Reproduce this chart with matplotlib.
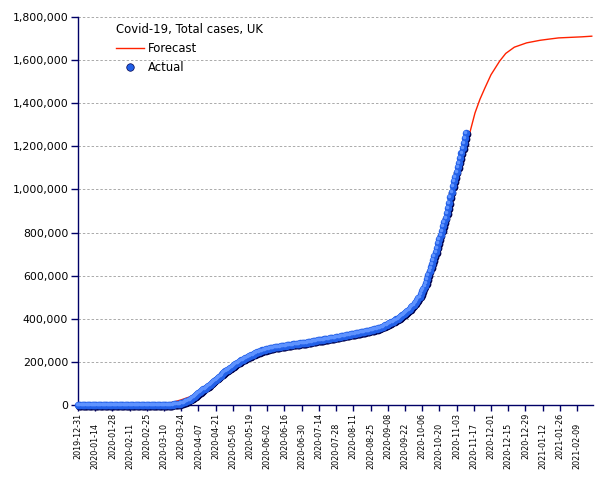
import pandas as pd
import matplotlib
matplotlib.use('Agg')
import matplotlib.pyplot as plt
import matplotlib.dates as mdates
import matplotlib.transforms as mtransforms
from matplotlib.lines import Line2D
from matplotlib.ticker import FuncFormatter

# daily cumulative cases, first value is 2019-12-31
start_date = '2019-12-31'
dec = [0]
jan = [0, 0, 0, 0, 0, 0, 0, 0, 0, 0, 0, 0, 0, 0, 0, 0, 0, 0, 0, 0,
       0, 0, 0, 0, 0, 0, 0, 0, 0, 0, 2]
feb = [2, 2, 2, 2, 2, 3, 3, 3, 8, 8, 9, 9, 9, 9, 9, 9, 9, 9, 9, 9,
       9, 13, 13, 13, 13, 15, 20, 23, 23]
mar = [36, 40, 51, 85, 115, 163, 206, 273, 321, 373, 456, 590, 797, 1061, 1391,
       1543, 1950, 2626, 3269, 3983, 5018, 5683, 6650, 8077, 9529, 11658, 14543,
       17089, 19522, 22141, 25150]
apr = [29474, 33718, 38168, 41903, 47806, 51608, 55242, 59500, 64000, 68500,
       72500, 76500, 80800, 85200, 89600, 94000, 99000, 103800, 108600, 113400,
       118000, 122700, 127400, 132000, 136800, 141600, 146400, 151200, 156000, 160200]
may = [164500, 168700, 172800, 176900, 180900, 184900, 188800, 192700, 196500, 200300,
       204000, 207500, 211000, 214000, 217000, 220000, 222900, 225800, 228600, 231300,
       234000, 236700, 239300, 241900, 244400, 246900, 249300, 251100, 252900, 254600,
       256300]
jun = [257900, 259400, 260900, 262300, 263600, 264900, 266100, 267200, 268300, 269300,
       270300, 271300, 272200, 273100, 274000, 274900, 275800, 276700, 277500, 278300,
       279100, 279900, 280700, 281600, 282500, 283400, 284200, 285000, 285800, 286600]
jul = [287400, 288200, 289000, 289800, 290800, 291900, 293000, 294100, 295200, 296300,
       297400, 298500, 299400, 300300, 301200, 302100, 303000, 303900, 304800, 305800,
       306800, 307800, 308800, 309800, 310800, 311900, 313000, 314100, 315200, 316300,
       317400]
aug = [318500, 319600, 320700, 321800, 322900, 324100, 325300, 326500, 327600, 328700,
       329800, 330900, 332000, 333100, 334200, 335300, 336500, 337700, 338900, 340100,
       341400, 342700, 344000, 345300, 346600, 348000, 349400, 350800, 352300, 353800,
       355500]
sep = [357300, 359300, 361500, 364000, 366700, 369600, 372500, 375400, 378300, 381200,
       384100, 387000, 390000, 393300, 396700, 400200, 403800, 407500, 411500, 415800,
       420400, 425200, 430200, 435400, 440800, 446500, 452500, 458800, 465400, 472300]
octo = [479500, 487000, 494800, 503000, 515000, 527500, 540000, 553000, 566500, 585000,
        602000, 620000, 638000, 656000, 674000, 692000, 711000, 730000, 749500, 769000,
        789000, 809000, 829000, 849000, 869000, 889000, 913000, 938000, 963000, 989000,
        1015000]
nov = [1037000, 1059000, 1081000, 1103000, 1125000, 1147000, 1169000, 1191000,
       1214000, 1237000, 1260000]

actual = dec + jan + feb + mar + apr + may + jun + jul + aug + sep + octo + nov

forecast_dates = ['2020-03-06', '2020-03-12', '2020-03-18', '2020-03-24', '2020-03-31',
                  '2020-04-07', '2020-04-14', '2020-04-21', '2020-04-28', '2020-05-05',
                  '2020-05-12', '2020-05-19', '2020-05-26', '2020-06-02', '2020-06-09',
                  '2020-06-16', '2020-06-23', '2020-06-30', '2020-07-07', '2020-07-14',
                  '2020-07-21', '2020-07-28', '2020-08-04', '2020-08-11', '2020-08-18',
                  '2020-08-25', '2020-09-01', '2020-09-08', '2020-09-15', '2020-09-22',
                  '2020-09-29', '2020-10-06', '2020-10-13', '2020-10-20', '2020-10-27',
                  '2020-11-03', '2020-11-09', '2020-11-14', '2020-11-18', '2020-11-22',
                  '2020-11-26', '2020-12-01', '2020-12-08', '2020-12-13', '2020-12-20',
                  '2020-12-30', '2021-01-10', '2021-01-18', '2021-01-25', '2021-02-13',
                  '2021-02-21']
forecast = [2000, 6000, 14000, 24000, 38000,
            60000, 85000, 118000, 151000, 181000,
            208000, 229000, 247000, 259000, 268000,
            275000, 281000, 287000, 293000, 300000,
            307000, 314000, 322000, 330000, 338000,
            346500, 357000, 375000, 396000, 425000,
            465000, 527000, 638000, 769000, 913000,
            1081000, 1205000, 1268000, 1355000, 1418000,
            1470000, 1532000, 1595000, 1631000, 1660000,
            1680000, 1692000, 1698000, 1703000, 1708000,
            1711000]

title = 'Covid-19, Total cases, UK'

actual_dates = pd.date_range(start_date, periods=len(actual), freq='D')
fc_dates = pd.to_datetime(forecast_dates)

navy = '#000066'
plt.rcParams['font.family'] = 'DejaVu Sans'

fig = plt.figure(figsize=(6.05, 4.8), dpi=100)
ax = fig.add_axes([78 / 605, 75 / 480, 515 / 605, 388 / 480])

ax.plot(fc_dates, forecast, color='#ff2200', lw=1.0, zorder=2)

# glossy ball look: dark shadow, blue body, light highlight
shadow = mtransforms.offset_copy(ax.transData, fig=fig, x=0.6, y=-0.6, units='points')
hilite = mtransforms.offset_copy(ax.transData, fig=fig, x=-0.7, y=0.7, units='points')
ax.plot(actual_dates, actual, 'o', ms=5.6, color='#00004a', mec='none',
        transform=shadow, clip_on=False, zorder=3)
ax.plot(actual_dates, actual, 'o', ms=5.4, color='#2260e8', mec='none',
        clip_on=False, zorder=4)
ax.plot(actual_dates, actual, 'o', ms=2.6, color='#5f93ff', mec='none',
        transform=hilite, clip_on=False, zorder=5)

ax.set_xlim(pd.Timestamp('2019-12-31'), pd.Timestamp('2021-02-22'))
ax.set_ylim(0, 1800000)
ax.set_yticks(range(0, 1800001, 200000))
ax.yaxis.set_major_formatter(FuncFormatter(lambda v, p: f'{int(v):,}'))

major = pd.date_range('2019-12-31', '2021-02-22', freq='28D')
minor = pd.date_range('2020-01-14', '2021-02-22', freq='28D')
ax.set_xticks(major)
ax.set_xticks(minor, minor=True)
fmt = mdates.DateFormatter('%Y-%m-%d')
ax.xaxis.set_major_formatter(fmt)
ax.xaxis.set_minor_formatter(fmt)
ax.tick_params(axis='x', which='both', rotation=90, labelsize=5.8, length=4.3,
               color=navy, width=1)
ax.tick_params(axis='x', which='major', pad=1.5)
ax.tick_params(axis='x', which='minor', pad=8.7)
ax.tick_params(axis='y', labelsize=7.8, length=5, pad=2, color=navy, width=1)

for s in ['top', 'right']:
    ax.spines[s].set_visible(False)
for s in ['left', 'bottom']:
    ax.spines[s].set_color(navy)
    ax.spines[s].set_linewidth(1)

ax.grid(axis='y', color='#aaaaaa', lw=0.7, dashes=(2.5, 2))
ax.set_axisbelow(True)

handles = [Line2D([], [], color='#ff2200', lw=1.0),
           Line2D([], [], ls='none', marker='o', ms=5.4, color='#2260e8', mec='#00004a',
                  mew=0.5)]
leg = ax.legend(handles, ['Forecast', 'Actual'], title=title, loc='upper left',
                bbox_to_anchor=(38 / 515, 1 - 6 / 388), frameon=False,
                fontsize=8.4, title_fontsize=8.4, borderpad=0, borderaxespad=0,
                handlelength=2.4, handletextpad=0.35, labelspacing=0.5,
                alignment='left')

fig.savefig('out.png', dpi=100)
